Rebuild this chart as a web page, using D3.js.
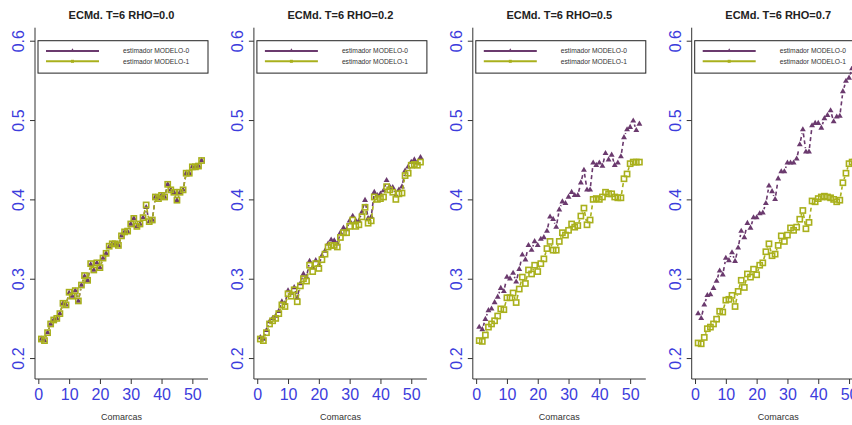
<!DOCTYPE html>
<html lang="es">
<head>
<meta charset="utf-8">
<script src="https://d3js.org/d3.v7.min.js"></script>
<style>
  body { margin: 0; background: #fff; }
  svg { display: block; font-family: "Liberation Sans", Arial, sans-serif; }
  .title { font-size: 11px; font-weight: bold; fill: #222; }
  .xlab { font-size: 9px; fill: #333; }
  .tick text { fill: #3c3cdc; font-size: 16px; }
  .leg text { font-size: 6.7px; fill: #333; }
</style>
</head>
<body>
<svg id="chart" width="852" height="425"></svg>
<script>
// títulos de los paneles
const titles = ["ECMd. T=6 RHO=0.0", "ECMd. T=6 RHO=0.2", "ECMd. T=6 RHO=0.5", "ECMd. T=6 RHO=0.7"];
const seriesNames = ["estimador MODELO-0", "estimador MODELO-1"];
const xTicks = [0, 10, 20, 30, 40, 50];
const yTicks = [0.2, 0.3, 0.4, 0.5, 0.6];

// ECMd por comarca (1..53)
const rho00_m0 = [0.224, 0.222, 0.232, 0.243, 0.248, 0.250, 0.256, 0.269, 0.267, 0.282,
  0.278, 0.285, 0.272, 0.292, 0.303, 0.298, 0.318, 0.311, 0.320, 0.314,
  0.326, 0.332, 0.340, 0.344, 0.344, 0.342, 0.354, 0.359, 0.359, 0.369,
  0.376, 0.366, 0.369, 0.377, 0.390, 0.372, 0.374, 0.403, 0.401, 0.405,
  0.403, 0.419, 0.412, 0.409, 0.399, 0.409, 0.412, 0.433, 0.433, 0.441,
  0.441, 0.442, 0.449];
const rho00_m1 = [0.224, 0.222, 0.232, 0.243, 0.248, 0.250, 0.256, 0.269, 0.267, 0.283,
  0.278, 0.285, 0.272, 0.292, 0.304, 0.298, 0.319, 0.311, 0.320, 0.314,
  0.326, 0.332, 0.341, 0.344, 0.344, 0.342, 0.354, 0.359, 0.360, 0.369,
  0.376, 0.366, 0.369, 0.377, 0.393, 0.372, 0.374, 0.403, 0.401, 0.405,
  0.403, 0.419, 0.412, 0.409, 0.399, 0.409, 0.412, 0.433, 0.433, 0.441,
  0.441, 0.442, 0.449];

const rho02_m0 = [0.226, 0.224, 0.235, 0.246, 0.250, 0.253, 0.259, 0.271, 0.269, 0.285,
  0.282, 0.289, 0.276, 0.294, 0.306, 0.302, 0.322, 0.314, 0.323, 0.317,
  0.329, 0.335, 0.344, 0.349, 0.348, 0.344, 0.358, 0.364, 0.362, 0.373,
  0.379, 0.373, 0.373, 0.384, 0.399, 0.376, 0.378, 0.409, 0.405, 0.407,
  0.411, 0.424, 0.416, 0.415, 0.405, 0.412, 0.416, 0.436, 0.441, 0.447,
  0.450, 0.446, 0.453];
const rho02_m1 = [0.224, 0.222, 0.232, 0.243, 0.247, 0.250, 0.256, 0.267, 0.265, 0.281,
  0.278, 0.286, 0.271, 0.291, 0.300, 0.297, 0.317, 0.309, 0.319, 0.313,
  0.324, 0.331, 0.340, 0.342, 0.342, 0.340, 0.352, 0.358, 0.358, 0.366,
  0.374, 0.366, 0.368, 0.378, 0.390, 0.370, 0.373, 0.403, 0.400, 0.401,
  0.403, 0.416, 0.412, 0.409, 0.400, 0.407, 0.408, 0.430, 0.433, 0.443,
  0.444, 0.443, 0.447];

const rho05_m0 = [0.239, 0.236, 0.249, 0.260, 0.262, 0.270, 0.277, 0.288, 0.284, 0.302,
  0.300, 0.307, 0.296, 0.312, 0.330, 0.324, 0.342, 0.336, 0.347, 0.342,
  0.350, 0.352, 0.360, 0.378, 0.375, 0.365, 0.387, 0.397, 0.395, 0.403,
  0.409, 0.405, 0.405, 0.421, 0.437, 0.412, 0.412, 0.446, 0.443, 0.446,
  0.442, 0.458, 0.450, 0.456, 0.443, 0.446, 0.454, 0.478, 0.488, 0.491,
  0.499, 0.487, 0.495];
const rho05_m1 = [0.222, 0.221, 0.229, 0.239, 0.243, 0.247, 0.253, 0.262, 0.261, 0.276,
  0.276, 0.282, 0.270, 0.287, 0.302, 0.294, 0.311, 0.306, 0.317, 0.309,
  0.319, 0.325, 0.338, 0.347, 0.336, 0.336, 0.347, 0.358, 0.355, 0.361,
  0.369, 0.365, 0.367, 0.379, 0.389, 0.368, 0.374, 0.400, 0.401, 0.400,
  0.403, 0.409, 0.407, 0.407, 0.403, 0.402, 0.402, 0.426, 0.432, 0.445,
  0.447, 0.447, 0.447];

const rho07_m0 = [0.256, 0.250, 0.267, 0.279, 0.280, 0.288, 0.297, 0.310, 0.305, 0.326,
  0.323, 0.333, 0.322, 0.339, 0.360, 0.352, 0.370, 0.364, 0.377, 0.377,
  0.382, 0.383, 0.395, 0.417, 0.410, 0.400, 0.426, 0.435, 0.435, 0.446,
  0.446, 0.446, 0.451, 0.469, 0.488, 0.460, 0.460, 0.493, 0.496, 0.496,
  0.490, 0.502, 0.506, 0.512, 0.498, 0.504, 0.505, 0.536, 0.549, 0.553,
  0.565, 0.560, 0.568];
const rho07_m1 = [0.219, 0.218, 0.226, 0.237, 0.239, 0.243, 0.249, 0.259, 0.258, 0.273,
  0.274, 0.279, 0.265, 0.284, 0.298, 0.289, 0.306, 0.302, 0.312, 0.305,
  0.317, 0.320, 0.334, 0.344, 0.329, 0.331, 0.342, 0.354, 0.347, 0.355,
  0.364, 0.361, 0.365, 0.375, 0.386, 0.363, 0.371, 0.398, 0.397, 0.401,
  0.403, 0.404, 0.403, 0.402, 0.400, 0.397, 0.399, 0.421, 0.433, 0.445,
  0.447, 0.448, 0.450];

const panels = [
  [rho00_m0, rho00_m1],
  [rho02_m0, rho02_m1],
  [rho05_m0, rho05_m1],
  [rho07_m0, rho07_m1]
];

const colM0 = "#6b3a6e";
const colM1 = "#a9b01c";

const svg = d3.select("#chart");
svg.append("rect").attr("width", 852).attr("height", 425).attr("fill", "#fff");

const plotW = 173, yTop = 27.7, yBottom = 379;
const x = d3.scaleLinear().domain([-1.08, 55.08]).range([0, plotW]);
const y = d3.scaleLinear().domain([0.1736, 0.6164]).range([yBottom, yTop]);
const gap = 3.8;

panels.forEach((series, p) => {
  const left = 35 + p * 218.9;
  const g = svg.append("g").attr("transform", `translate(${left},0)`);

  // ejes (tipo "L")
  const yAxis = g.append("g")
    .call(d3.axisLeft(y).tickValues(yTicks).tickFormat(d3.format(".1f")).tickSize(5).tickPadding(0));
  yAxis.select(".domain").remove();
  yAxis.selectAll(".tick line").attr("stroke", "#333");
  yAxis.selectAll(".tick text")
    .attr("x", 0).attr("dy", 0)
    .attr("text-anchor", "middle")
    .attr("transform", "translate(-11,0) rotate(-90)");

  const xAxis = g.append("g").attr("transform", `translate(0,${yBottom})`)
    .call(d3.axisBottom(x).tickValues(xTicks).tickSize(5).tickPadding(0));
  xAxis.select(".domain").remove();
  xAxis.selectAll(".tick line").attr("stroke", "#333");
  xAxis.selectAll(".tick text").attr("y", 21).attr("dy", 0);

  g.append("path")
    .attr("d", `M0,${yTop}V${yBottom}H${plotW}`)
    .attr("fill", "none").attr("stroke", "#333").attr("stroke-width", 1);

  g.append("text").attr("class", "title")
    .attr("x", plotW / 2).attr("y", 19).attr("text-anchor", "middle")
    .text(titles[p]);
  g.append("text").attr("class", "xlab")
    .attr("x", plotW / 2).attr("y", 420).attr("text-anchor", "middle")
    .text("Comarcas");

  // leyenda
  const leg = g.append("g").attr("class", "leg");
  leg.append("rect")
    .attr("x", 3).attr("y", y(0.6)).attr("width", plotW - 3).attr("height", 32.4)
    .attr("fill", "#fff").attr("stroke", "#222").attr("stroke-width", 1);
  [colM0, colM1].forEach((c, k) => {
    const ly = 51 + k * 10.3;
    leg.append("line").attr("x1", 11).attr("x2", 64).attr("y1", ly).attr("y2", ly)
      .attr("stroke", c).attr("stroke-width", 2);
    if (k === 0) {
      leg.append("path").attr("d", d3.symbol(d3.symbolTriangle, 4)())
        .attr("transform", `translate(37.5,${ly - 1})`).attr("fill", c);
    } else {
      leg.append("rect").attr("x", 36).attr("y", ly - 1.5).attr("width", 3).attr("height", 3)
        .attr("fill", c);
    }
    leg.append("text").attr("x", 88).attr("y", ly + 2.4).text(seriesNames[k]);
  });

  // series: tipo "b" con línea discontinua
  series.forEach((vals, k) => {
    const c = k === 0 ? colM0 : colM1;
    const pts = vals.map((v, i) => [x(i + 1), y(v)]);
    const segs = [];
    for (let i = 0; i < pts.length - 1; i++) {
      const [x1, y1] = pts[i], [x2, y2] = pts[i + 1];
      const d = Math.hypot(x2 - x1, y2 - y1);
      if (d <= 2 * gap + 0.5) continue;
      const ux = (x2 - x1) / d, uy = (y2 - y1) / d;
      segs.push(`M${x1 + ux * gap},${y1 + uy * gap}L${x2 - ux * gap},${y2 - uy * gap}`);
    }
    g.append("path").attr("d", segs.join(""))
      .attr("fill", "none").attr("stroke", c).attr("stroke-width", 1.6)
      .attr("stroke-dasharray", "4,3");

    if (k === 0) {
      g.append("g").selectAll("path").data(pts).join("path")
        .attr("d", d3.symbol(d3.symbolTriangle, 15)())
        .attr("transform", d => `translate(${d[0]},${d[1]})`)
        .attr("fill", c);
    } else {
      g.append("g").selectAll("rect").data(pts).join("rect")
        .attr("x", d => d[0] - 2.6).attr("y", d => d[1] - 2.6)
        .attr("width", 5.2).attr("height", 5.2)
        .attr("fill", "none").attr("stroke", c).attr("stroke-width", 1.6);
    }
  });
});
</script>
</body>
</html>
